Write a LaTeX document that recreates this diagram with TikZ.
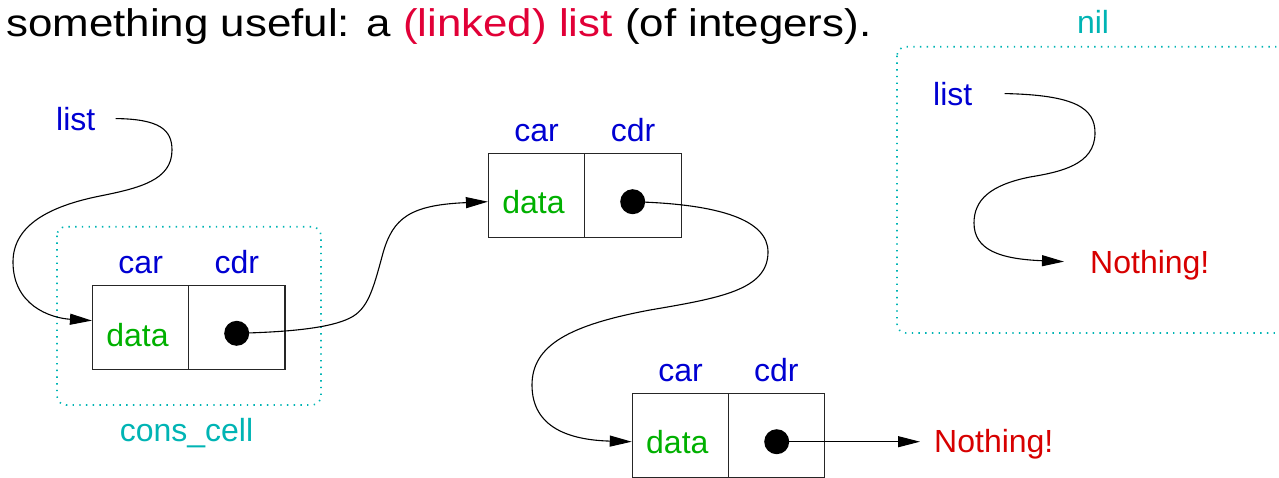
\documentclass[tikz,border=0pt]{standalone}
\usepackage{fontspec}
\setmainfont{Liberation Sans}
\usetikzlibrary{arrows.meta}

\definecolor{labelblue}{RGB}{0,0,210}
\definecolor{datagreen}{RGB}{0,176,0}
\definecolor{nothingred}{RGB}{215,0,0}
\definecolor{titlered}{RGB}{225,0,55}
\definecolor{groupteal}{RGB}{0,180,180}

\tikzset{
  lbl/.style={font=\fontsize{32}{38}\selectfont, inner sep=0pt},
  fieldname/.style={lbl, text=labelblue, anchor=base},
  datatext/.style={lbl, text=datagreen, anchor=base},
  half/.style={draw=black!85, line width=1.2pt, rectangle,
    minimum width=96.3pt, minimum height=84pt, inner sep=0pt},
  ptrdot/.style={circle, fill=black, minimum size=25pt, inner sep=0pt},
  link/.style={line width=1.1pt, -{Triangle[length=22pt,width=11pt]}},
  groupbox/.style={draw=groupteal, line width=1.6pt,
    dash pattern=on 1.4pt off 5.3pt, rounded corners=9pt},
  grouptext/.style={lbl, text=groupteal, anchor=base},
  nothing/.style={lbl, text=nothingred, anchor=base west}
}

\begin{document}
\begin{tikzpicture}[x=1pt, y=-1pt]
\useasboundingbox (0,0) rectangle (1279,477);

% heading
\node[anchor=base west, inner sep=0pt, xscale=1.14, transform shape,
      font=\fontsize{38.5}{44}\selectfont] (title) at (6,36.7)
  {something useful: a \textcolor{titlered}{(linked) list} (of integers).};

% first cons cell and its frame
\draw[groupbox] (57,226.7) rectangle (321,405);
\node[grouptext] (conslbl) at (186.5,441.7) {cons\_cell};
\node[half] (c1car) at (140.7,327.6) {};
\node[half] (c1cdr) at (236.85,327.6) {};
\node[fieldname] (c1carl) at (140.7,273) {car};
\node[fieldname] (c1cdrl) at (236.85,273) {cdr};
\node[datatext] (c1data) at (137.5,346) {data};
\node[ptrdot] (d1) at (236.7,333.3) {};

% second cons cell
\node[half] (c2car) at (536.65,195.5) {};
\node[half] (c2cdr) at (633,195.5) {};
\node[fieldname] (c2carl) at (536.65,141.2) {car};
\node[fieldname] (c2cdrl) at (633,141.2) {cdr};
\node[datatext] (c2data) at (533.5,213.5) {data};
\node[ptrdot] (d2) at (632.7,201.7) {};

% third cons cell
\node[half] (c3car) at (680.5,435.4) {};
\node[half] (c3cdr) at (776.3,435.4) {};
\node[fieldname] (c3carl) at (680.5,381) {car};
\node[fieldname] (c3cdrl) at (776.3,381) {cdr};
\node[datatext] (c3data) at (677.3,453.6) {data};
\node[ptrdot] (d3) at (776.7,441.7) {};

% list head
\node[lbl, text=labelblue, anchor=base west] (head) at (56,130) {list};

% end of the list
\node[nothing, inner xsep=14pt] (end1) at (920,452.7) {Nothing!};

% the empty list
\draw[groupbox] (897,46.7) rectangle (1310,333);
\node[grouptext] (nillbl) at (1093,33.3) {nil};
\node[lbl, text=labelblue, anchor=base west] (nilhead) at (933,105) {list};
\node[nothing, inner xsep=26pt] (end2) at (1064,273.3) {Nothing!};

% pointers
\draw[link] ([xshift=20pt]head.east)
  .. controls (160,119) and (172,130) .. (172,150)
  .. controls (172,180) and (140,188) .. (100,196)
  .. controls (50,206) and (13,225) .. (13,262)
  .. controls (13,305) and (50,318) .. ([yshift=7pt]c1car.west);

\draw[link] (d1.center)
  .. controls (290,332) and (330,328) .. (350,318)
  .. controls (368,309) and (373,290) .. (383,253)
  .. controls (393,218) and (410,205) .. ([yshift=-6.2pt]c2car.west);

\draw[link] (d2.center)
  .. controls (720,204) and (768,220) .. (768,252)
  .. controls (768,290) and (720,298) .. (650,310)
  .. controls (570,325) and (532,345) .. (532,385)
  .. controls (532,428) and (570,440) .. ([yshift=-6.3pt]c3car.west);

\draw[link] (d3.center) -- (d3.center -| end1.west);

\draw[link] ([xshift=32pt]nilhead.east)
  .. controls (1075,95) and (1095,108) .. (1095,133)
  .. controls (1095,165) and (1060,172) .. (1030,177)
  .. controls (990,185) and (974,200) .. (974,223)
  .. controls (974,250) and (1000,259) .. ([yshift=3.4pt]end2.west);
\end{tikzpicture}
\end{document}
